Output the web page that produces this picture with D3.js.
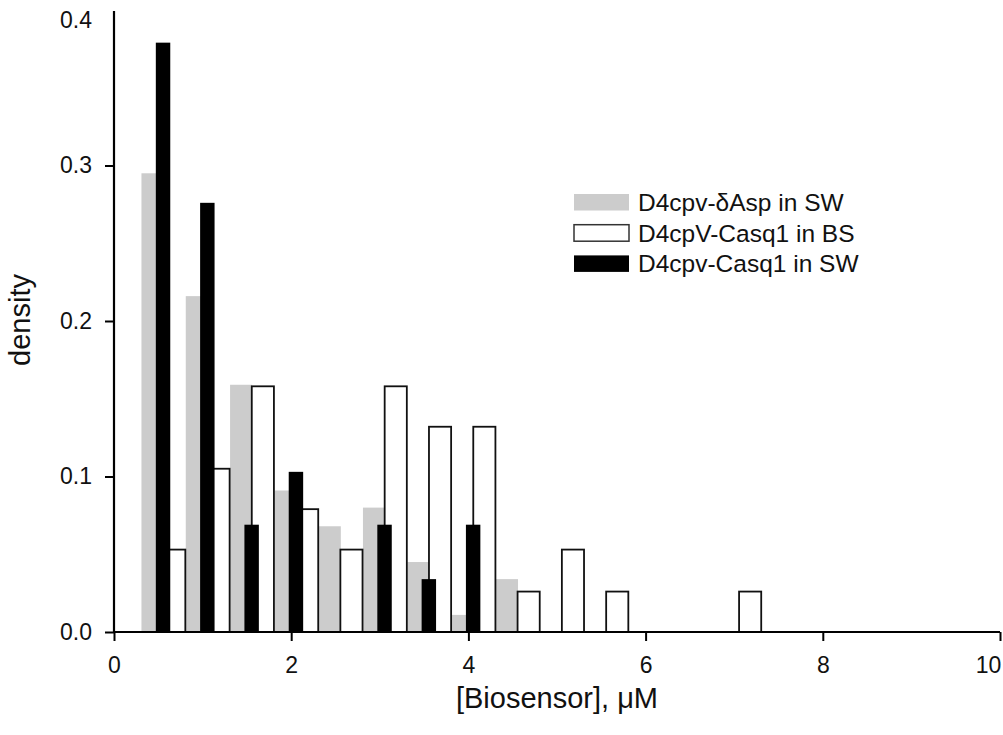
<!DOCTYPE html>
<html>
<head>
<meta charset="utf-8">
<script src="https://cdn.jsdelivr.net/npm/d3@7"></script>
<style>
  body { margin: 0; background: #fff; }
  svg { display: block; font-family: "Liberation Sans", Arial, sans-serif; }
</style>
</head>
<body>
<div id="chart"></div>
<script>
// Histogram bins of biosensor concentration (uM), bin centres
const bins = [0.5, 1.0, 1.5, 2.0, 2.5, 3.0, 3.5, 4.0, 4.5, 5.0, 5.5, 6.0, 6.5, 7.0];

// density per bin
const deltaAspSW = [0.295, 0.216, 0.159, 0.091, 0.068, 0.080, 0.045, 0.011, 0.034, 0, 0, 0, 0, 0];
const casq1BS    = [0.053, 0.105, 0.158, 0.079, 0.053, 0.158, 0.132, 0.132, 0.026, 0.053, 0.026, 0, 0, 0.026];
const casq1SW    = [0.379, 0.276, 0.069, 0.103, 0, 0.069, 0.034, 0.069, 0, 0, 0, 0, 0, 0];

const seriesNames = ["D4cpv-\u03b4Asp in SW", "D4cpV-Casq1 in BS", "D4cpv-Casq1 in SW"];

const xTicks = [0, 2, 4, 6, 8, 10];
const yTicks = [0, 0.1, 0.2, 0.3, 0.4];

const width = 1003;
const height = 735;

const svg = d3.select("#chart")
    .append("svg")
    .attr("width", width)
    .attr("height", height);

const x = d3.scaleLinear().domain([0, 10]).range([114, 1000]);
const y = d3.scaleLinear().domain([0, 0.4]).range([632, 10]);

// each series sits at its own offset inside a bin (drawing order: gray, white, black)
const series = [
    { name: seriesNames[0], values: deltaAspSW, fill: "#cccccc", stroke: "none", x0: -0.19, x1: 0.06 },
    { name: seriesNames[1], values: casq1BS, fill: "#ffffff", stroke: "#111", x0: 0.055, x1: 0.305 },
    { name: seriesNames[2], values: casq1SW, fill: "#000000", stroke: "none", x0: -0.028, x1: 0.135 }
];

series.forEach(s => {
    const rows = bins.map((b, i) => ({ bin: b, value: s.values[i] })).filter(d => d.value > 0);
    svg.append("g")
        .selectAll("rect")
        .data(rows)
        .enter().append("rect")
        .attr("x", d => x(d.bin + s.x0))
        .attr("y", d => y(d.value))
        .attr("width", x(s.x1) - x(s.x0))
        .attr("height", d => y(0) - y(d.value))
        .attr("fill", s.fill)
        .attr("stroke", s.stroke)
        .attr("stroke-width", 1.8);
});

// x axis
const xAxis = svg.append("g")
    .attr("transform", `translate(0,${y(0)})`)
    .call(d3.axisBottom(x).tickValues(xTicks).tickFormat(d3.format("d")).tickSize(9).tickPadding(16));
xAxis.select(".domain").attr("stroke-width", 2.2).attr("d", `M${x(0)},0H${x(10)}`);
xAxis.selectAll(".tick line").attr("stroke-width", 2);
xAxis.selectAll("text").style("font-size", "23px").attr("fill", "#111");
// last label pulled in so it stays on the page
xAxis.selectAll(".tick").filter(d => d === 10).select("text").attr("x", -12);

// y axis
const yAxis = svg.append("g")
    .attr("transform", `translate(${x(0)},0)`)
    .call(d3.axisLeft(y).tickValues(yTicks).tickFormat(d3.format(".1f")).tickSize(9).tickPadding(13));
yAxis.select(".domain").attr("stroke-width", 2.2).attr("d", `M0,${y(0)}V11`);
yAxis.selectAll(".tick line").attr("stroke-width", 2);
yAxis.selectAll("text").style("font-size", "23px").attr("fill", "#111");
const topTick = yAxis.selectAll(".tick").filter(d => d === 0.4);
topTick.select("line").remove();
topTick.select("text").attr("y", 10);

// axis titles
svg.append("text")
    .attr("x", (x(0) + x(10)) / 2)
    .attr("y", 708)
    .attr("text-anchor", "middle")
    .style("font-size", "29px")
    .attr("fill", "#111")
    .text("[Biosensor], \u03bcM");

svg.append("text")
    .attr("transform", "translate(30,320) rotate(-90)")
    .attr("text-anchor", "middle")
    .style("font-size", "29px")
    .attr("fill", "#111")
    .text("density");

// legend
const legend = svg.append("g").attr("transform", "translate(574,194)");
series.forEach((s, i) => {
    const row = legend.append("g").attr("transform", `translate(0,${i * 30.7})`);
    row.append("rect")
        .attr("x", 0)
        .attr("y", 0)
        .attr("width", 55)
        .attr("height", 16.5)
        .attr("fill", s.fill)
        .attr("stroke", s.stroke === "none" ? "none" : "#333")
        .attr("stroke-width", 1.5);
    row.append("text")
        .attr("x", 64)
        .attr("y", 17)
        .style("font-size", "24.5px")
        .attr("fill", "#111")
        .text(s.name);
});
</script>
</body>
</html>
